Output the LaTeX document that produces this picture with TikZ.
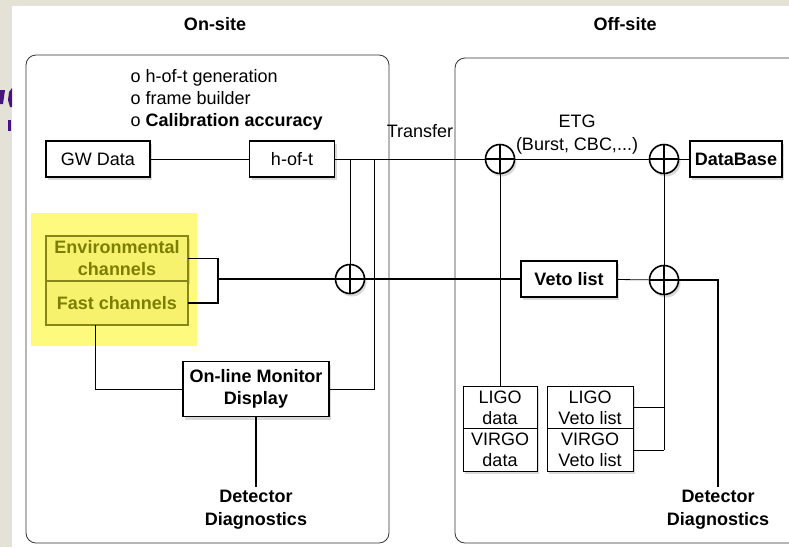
\documentclass[tikz,border=0pt]{standalone}
\usepackage{fontspec}
\setmainfont{Liberation Sans}
\usetikzlibrary{positioning, shadows}
\definecolor{slidebg}{RGB}{228,226,214}
\definecolor{slideink}{RGB}{70,20,130}
\definecolor{hilite}{RGB}{253,250,125}
\definecolor{chanfill}{RGB}{246,242,110}
\definecolor{chanedge}{RGB}{135,135,25}
\definecolor{chantext}{RGB}{125,125,0}

\begin{document}
\begin{tikzpicture}[
      x=1pt, y=-1pt,
      font=\fontsize{18}{22}\selectfont,
      shade/.style={drop shadow={opacity=.3, shadow xshift=2pt, shadow yshift=-3pt}},
      proc/.style={
        rectangle,
        draw,
        line width=1.6pt,
        fill=white,
        align=center,
        inner sep=0pt,
        font=\fontsize{18}{22}\selectfont\bfseries,
        shade
      },
      chan/.style={
        rectangle,
        draw=chanedge,
        line width=1.4pt,
        fill=chanfill,
        text=chantext,
        align=center,
        inner sep=0pt,
        outer sep=0pt,
        minimum width=142,
        font=\fontsize{18}{22}\selectfont\bfseries
      },
      store/.style={
        rectangle,
        draw,
        line width=.8pt,
        fill=white,
        align=center,
        inner sep=0pt,
        outer sep=0pt,
        minimum height=42.5,
        font=\fontsize{18}{21}\selectfont,
        shade
      },
      oplus/.style={
        circle,
        draw,
        line width=1.6pt,
        fill=white,
        minimum size=29,
        inner sep=0pt,
        shade,
        path picture={
          \draw[line width=1.6pt] (path picture bounding box.north) -- (path picture bounding box.south)
            (path picture bounding box.west) -- (path picture bounding box.east);
        }
      },
      site/.style={draw=black!80, line width=.8pt, rounded corners=10pt},
      label/.style={align=center, font=\fontsize{18}{23}\selectfont\bfseries},
      link/.style={line width=.8pt},
      bold link/.style={line width=1.5pt}
    ]
    \useasboundingbox (0,0) rectangle (789,547);
    % slide behind the picture
    \fill[slidebg] (0,0) rectangle (12,547);
    \fill[slidebg] (0,0) rectangle (789,6);
    \fill[slideink] (0,90) -- (5,90) -- (3,104) -- (0,104) -- cycle;
    \fill[slideink] (12,88) -- (9,92) -- (8,100) -- (10,107) -- (12,107) -- cycle;
    \fill[slideink] (8,120) rectangle (11,131);

    % the two sites
    \draw[site] (26,55) rectangle (389,543);
    \draw[site] (455,58) rectangle (800,543);
    \node[label] (onsite) at (215,24) {On-site};
    \node[label] (offsite) at (625,24) {Off-site};

    % on-site
    \node[anchor=west, align=left] (notes) at (127,100) {o h-of-t generation\\o frame builder\\o \textbf{Calibration accuracy}};
    \node[proc, font=\fontsize{18}{22}\selectfont, minimum width=104, minimum height=36] (gw) at (98,159) {GW Data};
    \node[proc, font=\fontsize{18}{22}\selectfont, minimum width=85, minimum height=36] (hoft) at (292,159) {h-of-t};
    \fill[hilite] (31,213) rectangle (197,346);
    \node[chan, minimum height=45, shade] (env) at (117,258.5) {Environmental\\channels};
    \node[chan, minimum height=44, below=0pt of env] (fast) {Fast channels};
    \node[oplus] (sumL) at (350,279) {};
    \node[proc, minimum width=146, minimum height=55] (mon) at (256,389) {On-line Monitor\\Display};
    \node[label] (diagL) at (256,510) {Detector\\Diagnostics};
    \node (transfer) at (420,131) {Transfer};

    % off-site
    \node[align=center, font=\fontsize{18}{23}\selectfont] (etg) at (577,135) {ETG\\(Burst, CBC,...)};
    \node[oplus] (sumA) at (500,159) {};
    \node[oplus] (sumB) at (664,159) {};
    \node[proc, minimum width=92, minimum height=36] (db) at (736,159) {DataBase};
    \node[proc, minimum width=96, minimum height=36] (veto) at (569,279) {Veto list};
    \node[oplus] (sumC) at (664,280) {};
    \node[store, minimum width=74] (ligod) at (500,407.5) {LIGO\\data};
    \node[store, minimum width=74, below=0pt of ligod] (virgod) {VIRGO\\data};
    \node[store, minimum width=86] (ligov) at (590,407.5) {LIGO\\Veto list};
    \node[store, minimum width=86, below=0pt of ligov] (virgov) {VIRGO\\Veto list};
    \node[label] (diagR) at (718,510) {Detector\\Diagnostics};

    \coordinate (tapA) at (350,159);
    \coordinate (tapB) at (374,159);
    \coordinate (brk) at (218,279);
    \coordinate (fastout) at (95,325);

    \draw[link] (gw) -- (hoft);
    \draw[link] (hoft) -- (sumA) -- (sumB) -- (db);
    \draw[link] (tapA) -- (sumL);
    \draw[link] (tapB) |- (mon.east);
    \draw[bold link] (env.east) -| (brk) |- (fast.east);
    \draw[bold link] (brk) -- (sumL) -- (veto);
    \draw[link] (fastout) |- (mon.west);
    \draw[bold link] (mon) -- (diagL);
    \draw[link] (sumA) -- (ligod);
    \draw[link] (veto) -- (sumC);
    \draw[link] (sumB) -- (sumC);
    \draw[link] (sumC) -- (sumC |- virgov.east);
    \draw[link] (ligov) -- (ligov -| sumC);
    \draw[link] (virgov) -- (virgov -| sumC);
    \draw[bold link] (sumC) -| (diagR);
  \end{tikzpicture}
\end{document}
